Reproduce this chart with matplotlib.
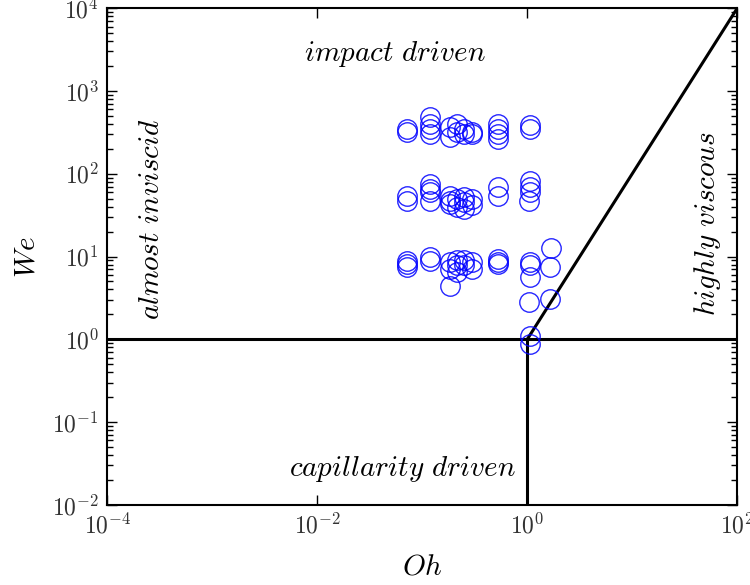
import numpy as np
import matplotlib
matplotlib.use("Agg")
import matplotlib.pyplot as plt
from matplotlib.ticker import LogLocator, NullLocator, FuncFormatter

plt.rcParams['mathtext.fontset'] = 'cm'
plt.rcParams['font.family'] = 'serif'
plt.rcParams['font.serif'] = ['DejaVu Serif']

# measured drops: Ohnesorge number and Weber number
oh = [0.072, 0.072, 0.119, 0.119, 0.119, 0.119, 0.185, 0.185, 0.216, 0.216,
      0.25, 0.25, 0.30, 0.30, 0.53, 0.53, 0.53, 0.53, 1.07, 1.07,
      0.072, 0.072, 0.119, 0.119, 0.119, 0.119, 0.185, 0.185, 0.185, 0.216, 0.216,
      0.25, 0.25, 0.25, 0.30, 0.30, 0.53, 0.53, 1.07, 1.07, 1.07, 1.05,
      0.072, 0.072, 0.072, 0.119, 0.119, 0.185, 0.185, 0.185, 0.216, 0.216, 0.216,
      0.25, 0.25, 0.30, 0.30, 0.53, 0.53, 0.53, 1.07, 1.07, 1.07, 1.05, 1.07, 1.07,
      1.70, 1.66, 1.66]
we = [351, 323, 490, 403, 351, 305, 371, 280, 403, 323,
      351, 298, 323, 305, 403, 351, 305, 265, 390, 351,
      54, 47, 76, 66, 60, 47, 54, 47, 43, 50, 40,
      52, 45, 38, 50, 42, 69, 54, 82, 69, 60, 47,
      8.8, 8.1, 7.5, 9.9, 8.8, 8.6, 7.1, 4.4, 9.2, 8.0, 6.5,
      9.2, 8.0, 8.6, 7.1, 9.3, 8.6, 8.1, 8.6, 8.0, 5.6, 2.8, 1.09, 0.87,
      12.7, 7.5, 3.05]

# regime boundaries
oh_bound = [1e-4, 1e2]
we_bound = [1, 1]
oh_vert = [1, 1]
we_vert = [1e-2, 1]
oh_diag = [1, 1e2]
we_diag = [1, 1e4]

fig = plt.figure(figsize=(7.5, 5.85), dpi=100)
ax = fig.add_axes([0.143, 0.137, 0.84, 0.849])

ax.plot(oh_bound, we_bound, color='black', lw=2.2)
ax.plot(oh_vert, we_vert, color='black', lw=2.2)
ax.plot(oh_diag, we_diag, color='black', lw=2.2)
ax.plot(oh, we, 'o', mfc='none', mec='blue', mew=1.0, ms=14, alpha=0.85)

ax.set_xscale('log')
ax.set_yscale('log')
ax.set_xlim(1e-4, 1e2)
ax.set_ylim(1e-2, 1e4)

pow_fmt = FuncFormatter(lambda v, pos: r'$10^{%d}$' % int(round(np.log10(v))))
ax.xaxis.set_major_locator(LogLocator(base=100))
ax.xaxis.set_minor_locator(NullLocator())
ax.xaxis.set_major_formatter(pow_fmt)
ax.yaxis.set_major_locator(LogLocator(base=10))
ax.yaxis.set_minor_locator(LogLocator(base=10, subs=np.arange(2, 10)))
ax.yaxis.set_major_formatter(pow_fmt)

ax.tick_params(which='both', direction='in', top=True, right=True,
               labelsize=17, labelcolor='#333333', pad=6)
ax.tick_params(which='major', length=7, width=1)
ax.tick_params(which='minor', length=4, width=1)
for s in ax.spines.values():
    s.set_linewidth(1.5)

ax.set_xlabel(r'$Oh$', fontsize=21, labelpad=10)
ax.set_ylabel(r'$We$', fontsize=21, labelpad=8)

ax.text(0.055, 2800, r'$impact\ driven$', fontsize=21, ha='center', va='center')
ax.text(0.065, 0.027, r'$capillarity\ driven$', fontsize=21, ha='center', va='center')
ax.text(2.6e-4, 28, r'$almost\ inviscid$', fontsize=21, rotation=90, ha='center', va='center')
ax.text(52, 25, r'$highly\ viscous$', fontsize=21, rotation=90, ha='center', va='center')

fig.savefig('out.png', dpi=100)
